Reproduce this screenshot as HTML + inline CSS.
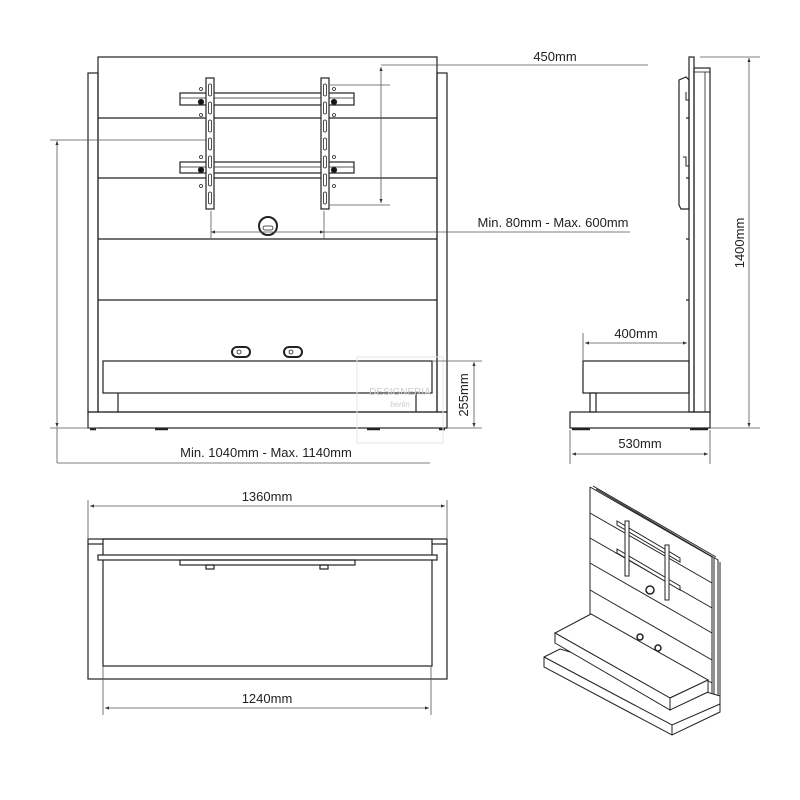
<!DOCTYPE html>
<html><head><meta charset="utf-8"><style>
html,body{margin:0;padding:0;background:#fff}
svg{display:block}
text{font-family:"Liberation Sans",sans-serif;font-size:13px;fill:#222}
</style></head><body>
<svg width="800" height="800" viewBox="0 0 800 800" xmlns="http://www.w3.org/2000/svg">
<defs>
<marker id="a" viewBox="0 0 10 10" refX="10" refY="5" markerWidth="7" markerHeight="5" orient="auto-start-reverse"><path d="M0,1 L10,5 L0,9 z" fill="#333"/></marker>
</defs>
<g fill="none" stroke="#222" stroke-width="1.2">
<rect x="98" y="57" width="339" height="355"/>
<rect x="88" y="73" width="10" height="339"/>
<rect x="437" y="73" width="10" height="339"/>
<line x1="98" y1="118" x2="437" y2="118"/>
<line x1="98" y1="178" x2="437" y2="178"/>
<line x1="98" y1="239" x2="437" y2="239"/>
<line x1="98" y1="300" x2="437" y2="300"/>
<rect x="88" y="412" width="359" height="16"/>
<rect x="103" y="361" width="329" height="32"/>
<line x1="118" y1="393" x2="118" y2="412"/>
<line x1="416" y1="393" x2="416" y2="412"/>
<g stroke-width="2.5"><line x1="90" y1="429" x2="96" y2="429"/><line x1="155" y1="429" x2="168" y2="429"/><line x1="367" y1="429" x2="380" y2="429"/><line x1="439" y1="429" x2="445" y2="429"/></g>
<rect x="180" y="93" width="174" height="12" fill="#fff"/>
<line x1="180" y1="98" x2="354" y2="98" stroke-width="0.8"/>
<rect x="180" y="162" width="174" height="11" fill="#fff"/>
<line x1="180" y1="167" x2="354" y2="167" stroke-width="0.8"/>
<rect x="206" y="78" width="8" height="131" fill="#fff"/>
<rect x="321" y="78" width="8" height="131" fill="#fff"/>
<g stroke-width="0.8">
<rect x="208.5" y="84" width="3" height="12" rx="1.5"/><rect x="208.5" y="102" width="3" height="12" rx="1.5"/><rect x="208.5" y="120" width="3" height="12" rx="1.5"/><rect x="208.5" y="138" width="3" height="12" rx="1.5"/><rect x="208.5" y="156" width="3" height="12" rx="1.5"/><rect x="208.5" y="174" width="3" height="12" rx="1.5"/><rect x="208.5" y="192" width="3" height="12" rx="1.5"/>
<rect x="323.5" y="84" width="3" height="12" rx="1.5"/><rect x="323.5" y="102" width="3" height="12" rx="1.5"/><rect x="323.5" y="120" width="3" height="12" rx="1.5"/><rect x="323.5" y="138" width="3" height="12" rx="1.5"/><rect x="323.5" y="156" width="3" height="12" rx="1.5"/><rect x="323.5" y="174" width="3" height="12" rx="1.5"/><rect x="323.5" y="192" width="3" height="12" rx="1.5"/>
<circle cx="201" cy="89" r="1.5"/><circle cx="201" cy="115" r="1.5"/><circle cx="201" cy="157" r="1.5"/><circle cx="201" cy="186" r="1.5"/>
<circle cx="334" cy="89" r="1.5"/><circle cx="334" cy="115" r="1.5"/><circle cx="334" cy="157" r="1.5"/><circle cx="334" cy="186" r="1.5"/>
</g>
<g fill="#111"><circle cx="201" cy="102" r="2.5"/><circle cx="201" cy="170" r="2.5"/><circle cx="334" cy="102" r="2.5"/><circle cx="334" cy="170" r="2.5"/></g>
<circle cx="268" cy="226" r="9" stroke-width="2"/>
<rect x="263" y="226" width="10" height="4" rx="2" stroke-width="0.8"/>
<rect x="232" y="347" width="18" height="10" rx="5" stroke-width="2"/>
<circle cx="239" cy="352" r="2" stroke-width="0.8"/>
<rect x="284" y="347" width="18" height="10" rx="5" stroke-width="2"/>
<circle cx="291" cy="352" r="2" stroke-width="0.8"/>
</g>
<rect x="357" y="357" width="86" height="86" fill="none" stroke="#e6e6e6"/>
<text x="400" y="395" text-anchor="middle" style="font-size:10px;fill:#ccc">DESIGNERIA</text>
<text x="400" y="407" text-anchor="middle" style="font-size:8px;fill:#ccc;font-style:italic">berlin</text>
<g stroke="#555" stroke-width="0.8" fill="none">
<line x1="381" y1="65" x2="648" y2="65"/>
<line x1="330" y1="85" x2="390" y2="85"/>
<line x1="330" y1="205" x2="390" y2="205"/>
<line x1="381" y1="67" x2="381" y2="203" marker-start="url(#a)" marker-end="url(#a)"/>
<line x1="211" y1="211" x2="211" y2="239"/>
<line x1="324" y1="211" x2="324" y2="239"/>
<line x1="211" y1="232" x2="324" y2="232" marker-start="url(#a)" marker-end="url(#a)"/>
<line x1="324" y1="232" x2="630" y2="232"/>
<line x1="50" y1="140" x2="207" y2="140"/>
<line x1="50" y1="428" x2="98" y2="428"/>
<line x1="57" y1="141" x2="57" y2="427" marker-start="url(#a)" marker-end="url(#a)"/>
<line x1="57" y1="428" x2="57" y2="463"/>
<line x1="57" y1="463" x2="430" y2="463"/>
<line x1="432" y1="361" x2="482" y2="361"/>
<line x1="447" y1="428" x2="482" y2="428"/>
<line x1="474" y1="362" x2="474" y2="427" marker-start="url(#a)" marker-end="url(#a)"/>
</g>
<text x="555" y="61" text-anchor="middle">450mm</text>
<text x="553" y="227" text-anchor="middle">Min. 80mm - Max. 600mm</text>
<text x="266" y="457" text-anchor="middle">Min. 1040mm - Max. 1140mm</text>
<text transform="translate(468,395) rotate(-90)" text-anchor="middle">255mm</text>
<g fill="none" stroke="#222" stroke-width="1.2">
<rect x="689" y="57" width="5" height="355"/>
<rect x="694" y="68" width="16" height="344"/>
<line x1="705" y1="72" x2="705" y2="412" stroke-width="0.8"/>
<line x1="694" y1="72" x2="710" y2="72" stroke-width="0.8"/>
<path d="M679,80 L686,77 L689,80 L689,209 L681,209 L679,205 Z"/>
<path d="M686,92 L686,100 L689,100 M683,157 L686,157 L686,166 L689,166" stroke-width="1"/>
<line x1="686" y1="118" x2="689" y2="118"/><line x1="686" y1="178" x2="689" y2="178"/><line x1="686" y1="239" x2="689" y2="239"/><line x1="686" y1="300" x2="689" y2="300"/>
<rect x="583" y="361" width="106" height="32"/>
<rect x="590" y="393" width="6" height="19"/>
<rect x="570" y="412" width="140" height="16"/>
<g stroke-width="2.5"><line x1="572" y1="429" x2="590" y2="429"/><line x1="690" y1="429" x2="708" y2="429"/></g>
</g>
<g stroke="#555" stroke-width="0.8" fill="none">
<line x1="583" y1="333" x2="583" y2="361"/>
<line x1="585" y1="343" x2="687" y2="343" marker-start="url(#a)" marker-end="url(#a)"/>
<line x1="570" y1="430" x2="570" y2="464"/>
<line x1="710" y1="430" x2="710" y2="464"/>
<line x1="572" y1="454" x2="708" y2="454" marker-start="url(#a)" marker-end="url(#a)"/>
<line x1="700" y1="57" x2="760" y2="57"/>
<line x1="710" y1="428" x2="760" y2="428"/>
<line x1="749" y1="58" x2="749" y2="427" marker-start="url(#a)" marker-end="url(#a)"/>
</g>
<text x="636" y="338" text-anchor="middle">400mm</text>
<text x="640" y="448" text-anchor="middle">530mm</text>
<text transform="translate(744,243) rotate(-90)" text-anchor="middle">1400mm</text>
<g fill="none" stroke="#222" stroke-width="1.2">
<rect x="88" y="539" width="359" height="140"/>
<line x1="88" y1="544" x2="103" y2="544"/><line x1="432" y1="544" x2="447" y2="544"/>
<rect x="103" y="539" width="329" height="127"/>
<rect x="98" y="555" width="339" height="5" fill="#fff"/>
<rect x="180" y="560" width="175" height="5"/>
<rect x="206" y="565" width="8" height="4"/>
<rect x="320" y="565" width="8" height="4"/>
</g>
<g stroke="#555" stroke-width="0.8" fill="none">
<line x1="88" y1="500" x2="88" y2="539"/><line x1="447" y1="500" x2="447" y2="539"/>
<line x1="90" y1="506" x2="445" y2="506" marker-start="url(#a)" marker-end="url(#a)"/>
<line x1="103" y1="666" x2="103" y2="715"/><line x1="431" y1="666" x2="431" y2="715"/>
<line x1="105" y1="708" x2="429" y2="708" marker-start="url(#a)" marker-end="url(#a)"/>
</g>
<text x="267" y="501" text-anchor="middle">1360mm</text>
<text x="267" y="703" text-anchor="middle">1240mm</text>
<g fill="none" stroke="#222" stroke-width="1">
<path d="M590,487 L712,557 L712,702"/>
<line x1="590" y1="487" x2="590" y2="614"/>
<path d="M593,486 L716,557 M596,489 L718,560 L718,700 M714,558 L714,702 M720,562 L720,698"/>
<line x1="590" y1="513" x2="712" y2="583"/>
<line x1="590" y1="538" x2="712" y2="608"/>
<line x1="590" y1="563" x2="712" y2="633"/>
<line x1="590" y1="590" x2="712" y2="660"/>
<line x1="620" y1="631" x2="712" y2="683"/>
<path d="M617,521 L680,558 L680,562 L617,525 Z M617,549 L680,586 L680,590 L617,553 Z" fill="#fff"/>
<rect x="625" y="521" width="4" height="55" fill="#fff"/>
<rect x="665" y="545" width="4" height="55" fill="#fff"/>
<circle cx="650" cy="590" r="4" stroke-width="1.5"/>
<circle cx="640" cy="637" r="3" stroke-width="1.5"/>
<circle cx="658" cy="648" r="3" stroke-width="1.5"/>
<path d="M544,657 L560,649 L720,696 L720,712 L672,735 L544,667 Z" fill="#fff"/>
<path d="M544,657 L672,725 L720,704 M672,725 L672,735"/>
<path d="M591,614 L555,633 L670,698 L708,680 Z" fill="#fff"/>
<path d="M555,633 L555,643 L670,710 L670,698 Z" fill="#fff"/>
<path d="M670,698 L670,710 L708,692 L708,680 Z" fill="#fff"/>
</g>
</svg>
</body></html>
